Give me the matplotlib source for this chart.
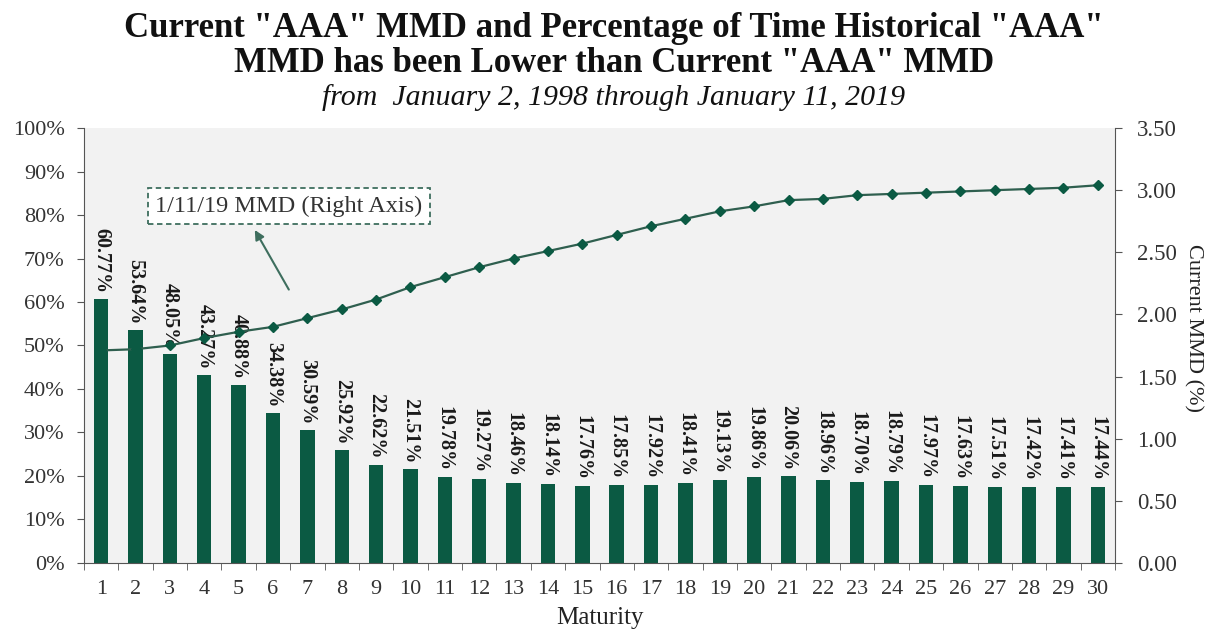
import numpy as np
import matplotlib.pyplot as plt

# maturities (years)
maturity = list(range(1, 31))

# % of time historical AAA MMD was lower than current
pct_lower = [60.77, 53.64, 48.05, 43.27, 40.88, 34.38, 30.59, 25.92, 22.62, 21.51,
             19.78, 19.27, 18.46, 18.14, 17.76, 17.85, 17.92, 18.41, 19.13, 19.86,
             20.06, 18.96, 18.70, 18.79, 17.97, 17.63, 17.51, 17.42, 17.41, 17.44]

# 1/11/19 MMD curve (right axis)
mmd = [1.71, 1.72, 1.75, 1.81, 1.86, 1.90, 1.97, 2.04, 2.12, 2.22,
       2.30, 2.38, 2.45, 2.51, 2.57, 2.64, 2.71, 2.77, 2.83, 2.87,
       2.92, 2.93, 2.96, 2.97, 2.98, 2.99, 3.00, 3.01, 3.02, 3.04]

green = '#0B5A43'
plt.rcParams['font.family'] = ['Liberation Serif', 'DejaVu Serif']

fig = plt.figure(figsize=(12.28, 6.31), dpi=100)
ax = fig.add_axes([0.0684, 0.108, 0.8396, 0.689])
ax.set_facecolor('#F2F2F2')

ax.bar(maturity, pct_lower, width=0.42, color=green, zorder=2)
for x, v in zip(maturity, pct_lower):
    ax.text(x, v + 1.3, f"{v:.2f}%", rotation=270, ha='center', va='bottom',
            fontsize=14.5, fontweight='bold', color='#1a1a1a', zorder=4)

ax.set_xlim(0.5, 30.5)
ax.set_ylim(0, 100)
ax.set_yticks(np.arange(0, 101, 10))
ax.set_yticklabels([f"{t}%" for t in range(0, 101, 10)], fontsize=16, color='#333333')
ax.set_xticks(maturity)
ax.set_xticklabels([str(m) for m in maturity], fontsize=16, color='#333333')
ax.set_xticks(np.arange(0.5, 31, 1), minor=True)
ax.tick_params(axis='x', which='major', length=0, pad=12)
ax.tick_params(axis='x', which='minor', length=5, direction='out', color='#555555')
ax.tick_params(axis='y', length=5, direction='out', color='#555555', pad=9)
ax.set_xlabel("Maturity", fontsize=18, color='#222222', labelpad=6)
for s in ['top', 'right']:
    ax.spines[s].set_visible(False)
for s in ['left', 'bottom']:
    ax.spines[s].set_color('#555555')

ax2 = ax.twinx()
ax2.plot(maturity, mmd, color='#2F5F4F', linewidth=1.6, marker='D', markersize=5,
         markerfacecolor=green, markeredgecolor=green, zorder=3)
ax2.set_ylim(0, 3.5)
ax2.set_yticks(np.arange(0, 3.51, 0.5))
ax2.set_yticklabels([f"{t:.2f}" for t in np.arange(0, 3.51, 0.5)], fontsize=16.5, color='#333333')
ax2.tick_params(axis='y', length=5, direction='out', color='#555555', pad=11)
ax2.set_ylabel("Current MMD (%)", fontsize=16, rotation=270, color='#222222',
               va='center')
ax2.yaxis.set_label_coords(1.076, 0.54)
for s in ['top', 'left', 'bottom']:
    ax2.spines[s].set_visible(False)
ax2.spines['right'].set_color('#555555')

ax2.text(6.46, 2.87, "1/11/19 MMD (Right Axis)", ha='center', va='center',
         fontsize=17.5, color='#333333', zorder=5,
         bbox=dict(boxstyle='square,pad=0.3', fc='white', ec='#3E6E5E',
                   ls=(0, (3, 2)), lw=1.3))
ax2.annotate("", xy=(5.47, 2.68), xytext=(6.46, 2.20),
             arrowprops=dict(arrowstyle='-|>', color='#3E6E5E', lw=1.5,
                             shrinkA=0, shrinkB=0, mutation_scale=14))

fig.text(0.5, 0.955, 'Current "AAA" MMD and Percentage of Time Historical "AAA"',
         ha='center', va='center', fontsize=25, fontweight='bold', color='#111111')
fig.text(0.5, 0.9, 'MMD has been Lower than Current "AAA" MMD',
         ha='center', va='center', fontsize=25, fontweight='bold', color='#111111')
fig.text(0.5, 0.845, 'from  January 2, 1998 through January 11, 2019',
         ha='center', va='center', fontsize=21.5, style='italic', color='#111111')

fig.savefig('out.png', dpi=100, facecolor='white')
